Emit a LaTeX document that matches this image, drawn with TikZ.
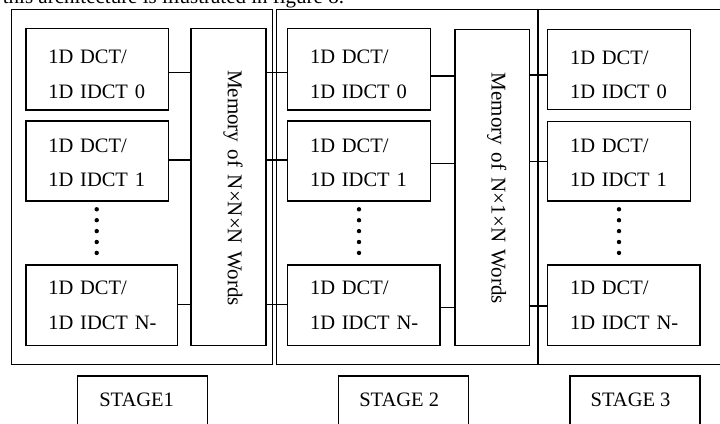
\documentclass[tikz,border=0pt]{standalone}
\usepackage{fontspec}
\setmainfont{Liberation Serif}
\begin{document}
\begin{tikzpicture}[x=1pt,y=-1pt,
  every node/.style={inner sep=0pt, outer sep=0pt},
  lw/.style={line width=1.1pt},
  frame/.style={draw, lw},
  blk/.style={draw, lw, align=left, inner xsep=22.3pt, font=\fontsize{20.5}{34.3}\selectfont},
  memb/.style={draw, lw},
  memt/.style={rotate=-90, font=\fontsize{21}{25}\selectfont},
  conn/.style={lw},
  stg/.style={draw, lw, anchor=north west, minimum width=130pt, minimum height=70pt},
  stgt/.style={anchor=base west, font=\fontsize{20.5}{25}\selectfont}
]
\useasboundingbox (0,0) rectangle (720,423);
\clip (0,0) rectangle (720,423);

% caption (cut off at the top, as in the reference)
\node[anchor=base east, font=\fontsize{21}{25}\selectfont] (cap) at (344,3.5) {this architecture is illustrated in figure 8.};

% stage frames
\node[frame, anchor=north west, minimum width=261pt, minimum height=355pt] (s1) at (11.7,9.3) {};
\node[frame, anchor=north west, minimum width=261.5pt, minimum height=355pt] (s2) at (276.5,9.3) {};
\node[frame, anchor=north west, minimum width=202pt, minimum height=355pt] (s3) at (538,9.3) {};

% stage 1 blocks
\node[blk, minimum width=142.3pt, minimum height=81.7pt, text width=97.7pt] (b10) at (97.15,69.15) {\rule{0pt}{24pt}1D DCT/\\\mbox{1D IDCT 0}};
\node[blk, minimum width=142.3pt, minimum height=80pt, text width=97.7pt] (b11) at (97.15,161) {\rule{0pt}{17pt}1D DCT/\\\mbox{1D IDCT 1}};
\node[blk, minimum width=151.7pt, minimum height=80.7pt, text width=107.1pt] (b1n) at (101.85,305.35) {1D DCT/\\\mbox{1D IDCT N-}};
\node[memb, minimum width=75pt, minimum height=317.4pt] (m1) at (228.5,187) {};
\node[memt] (m1t) at (233,188) {Memory\hspace{0.36em}of\hspace{0.36em}N×N×N\hspace{0.36em}Words};

% stage 2 blocks
\node[blk, minimum width=143pt, minimum height=81.7pt, text width=98.4pt] (b20) at (359.2,69.15) {\rule{0pt}{24pt}1D DCT/\\\mbox{1D IDCT 0}};
\node[blk, minimum width=143pt, minimum height=80pt, text width=98.4pt] (b21) at (359.2,161) {\rule{0pt}{17pt}1D DCT/\\\mbox{1D IDCT 1}};
\node[blk, minimum width=152.3pt, minimum height=80.7pt, text width=107.7pt] (b2n) at (363.85,305.35) {1D DCT/\\\mbox{1D IDCT N-}};
\node[memb, minimum width=74.3pt, minimum height=316.4pt] (m2) at (492.15,187.5) {};
\node[memt] (m2t) at (496.7,188.5) {Memory\hspace{0.36em}of\hspace{0.36em}N×1×N\hspace{0.36em}Words};

% stage 3 blocks
\node[blk, minimum width=143pt, minimum height=80pt, text width=98.4pt] (b30) at (619.2,69.3) {\rule{0pt}{24pt}1D DCT/\\\mbox{1D IDCT 0}};
\node[blk, minimum width=143pt, minimum height=79.3pt, text width=98.4pt] (b31) at (619.2,161.35) {\rule{0pt}{17pt}1D DCT/\\\mbox{1D IDCT 1}};
\node[blk, minimum width=152.3pt, minimum height=80.7pt, text width=107.7pt] (b3n) at (623.85,305.35) {1D DCT/\\\mbox{1D IDCT N-}};

% dots
\foreach \x in {96.7,359,619}
  \foreach \y in {209.3,220.2,231.1,242,252.9}
    \fill (\x,\y) circle (2.2pt);

% connector heights
\coordinate (ya) at (0,72.7);
\coordinate (yb) at (0,160);
\coordinate (yc) at (0,304.3);
\coordinate (yd) at (0,76);
\coordinate (ye) at (0,163.3);
\coordinate (yf) at (0,307.7);
\coordinate (yg) at (0,75);
\coordinate (yh) at (0,161.7);
\coordinate (yi) at (0,306);

\draw[conn] (b10.east |- ya) -- (m1.west |- ya);
\draw[conn] (b11.east |- yb) -- (m1.west |- yb);
\draw[conn] (b1n.east |- yc) -- (m1.west |- yc);
\draw[conn] (m1.east |- ya) -- (b20.west |- ya);
\draw[conn] (m1.east |- yb) -- (b21.west |- yb);
\draw[conn] (m1.east |- yc) -- (b2n.west |- yc);
\draw[conn] (b20.east |- yd) -- (m2.west |- yd);
\draw[conn] (b21.east |- ye) -- (m2.west |- ye);
\draw[conn] (b2n.east |- yf) -- (m2.west |- yf);
\draw[conn] (m2.east |- yg) -- (b30.west |- yg);
\draw[conn] (m2.east |- yh) -- (b31.west |- yh);
\draw[conn] (m2.east |- yi) -- (b3n.west |- yi);

% stage labels
\node[stg] (st1) at (77.7,376) {};
\node[stg] (st2) at (338.3,376) {};
\node[stg] (st3) at (570,376) {};
\node[stgt] (st1t) at (99.3,406.7) {STAGE1};
\node[stgt] (st2t) at (359.3,406.7) {STAGE 2};
\node[stgt] (st3t) at (590.7,406.7) {STAGE 3};
\end{tikzpicture}
\end{document}
